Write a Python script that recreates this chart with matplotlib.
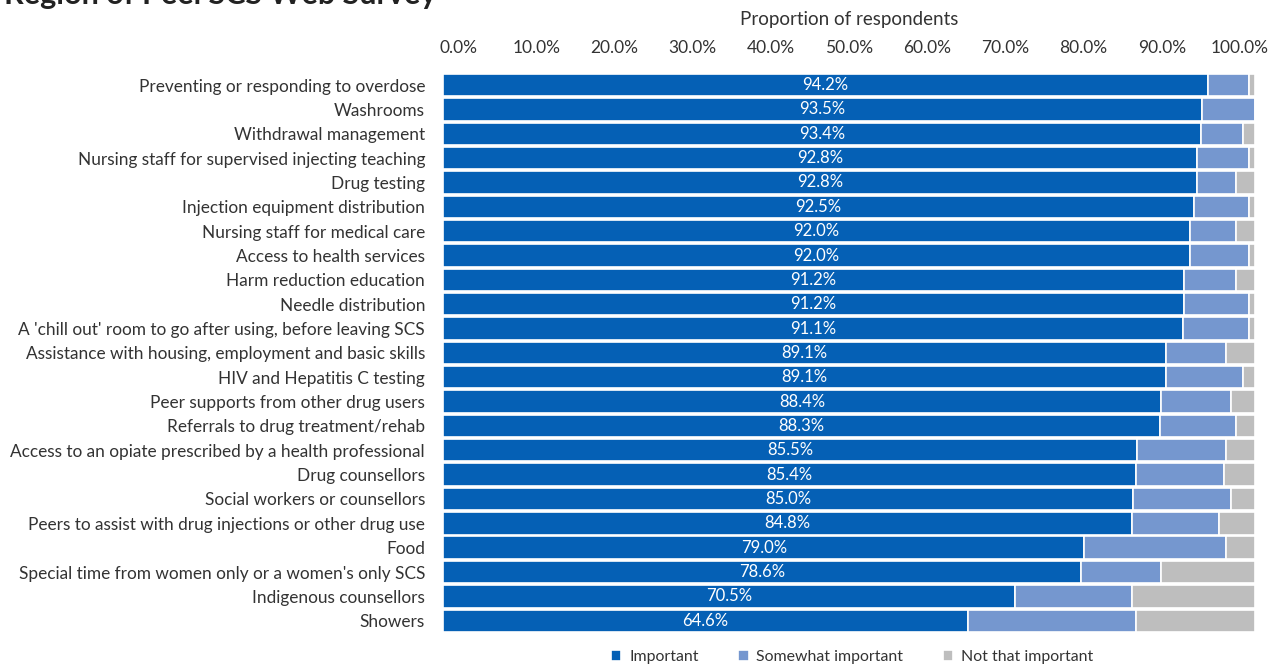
import matplotlib.pyplot as plt
import matplotlib.transforms as mtransforms
import numpy as np
from matplotlib.ticker import PercentFormatter

# Importance ratings for each service (percent of respondents)
services = [
    "Preventing or responding to overdose",
    "Washrooms",
    "Withdrawal management",
    "Nursing staff for supervised injecting teaching",
    "Drug testing",
    "Injection equipment distribution",
    "Nursing staff for medical care",
    "Access to health services",
    "Harm reduction education",
    "Needle distribution",
    "A 'chill out' room to go after using, before leaving SCS",
    "Assistance with housing, employment and basic skills",
    "HIV and Hepatitis C testing",
    "Peer supports from other drug users",
    "Referrals to drug treatment/rehab",
    "Access to an opiate prescribed by a health professional",
    "Drug counsellors",
    "Social workers or counsellors",
    "Peers to assist with drug injections or other drug use",
    "Food",
    "Special time from women only or a women's only SCS",
    "Indigenous counsellors",
    "Showers",
]
important = [94.2, 93.5, 93.4, 92.8, 92.8, 92.5, 92.0, 92.0, 91.2, 91.2, 91.1,
             89.1, 89.1, 88.4, 88.3, 85.5, 85.4, 85.0, 84.8, 79.0, 78.6, 70.5, 64.6]
somewhat = [5.1, 6.5, 5.1, 6.5, 4.9, 6.8, 5.7, 7.3, 6.5, 8.1, 8.2,
            7.3, 9.4, 8.6, 9.4, 10.9, 10.8, 12.0, 10.8, 17.4, 9.8, 14.3, 20.8]
not_that = [0.7, 0.0, 1.5, 0.7, 2.3, 0.7, 2.3, 0.7, 2.3, 0.7, 0.7,
            3.6, 1.5, 3.0, 2.3, 3.6, 3.8, 3.0, 4.4, 3.6, 11.6, 15.2, 14.6]
series_names = ["Important", "Somewhat important", "Not that important"]
colors = ["#0560b5", "#7597cf", "#bebebe"]

plt.rcParams['font.family'] = ['Lato', 'DejaVu Sans']

fig = plt.figure(figsize=(12.75, 6.69), dpi=100)
ax = fig.add_axes([0.3475, 0.054, 0.6368, 0.837])

y = np.arange(len(services))
left = np.zeros(len(services))
for vals, name, col in zip([important, somewhat, not_that], series_names, colors):
    ax.barh(y, vals, left=left, height=0.92, color=col, edgecolor='white',
            linewidth=1.2, label=name)
    left += np.array(vals)

for yi, v in zip(y, important):
    ax.text(v / 2, yi, f"{v:.1f}%", ha='center', va='center', color='white', fontsize=12)

ax.set_xlim(0, 100)
ax.set_ylim(len(services) - 0.5, -0.5)
ax.set_yticks(y)
ax.set_yticklabels(services, fontsize=12.4, color='#333333')
ax.xaxis.tick_top()
ax.xaxis.set_label_position('top')
ax.set_xticks(np.arange(0, 101, 10))
ax.xaxis.set_major_formatter(PercentFormatter(decimals=1))
ax.tick_params(axis='x', labelsize=12.5, colors='#333333', length=0, pad=12)
ax.tick_params(axis='y', length=0, pad=13)
ax.set_xlabel("Proportion of respondents", fontsize=13.5, color='#333333', labelpad=11)
for s in ax.spines.values():
    s.set_visible(False)

# pull the percent labels slightly inward so the end ones stay on the canvas
xlabels = ax.get_xticklabels()
n = len(xlabels) - 1
for i, lab in enumerate(xlabels):
    dx = (15 - 30 * i / n) / 100
    lab.set_transform(lab.get_transform() +
                      mtransforms.ScaledTranslation(dx, 0, fig.dpi_scale_trans))

ax.legend(loc='upper center', bbox_to_anchor=(0.504, -0.005), ncol=3, frameon=False,
          fontsize=11.4, handlelength=0.65, handleheight=0.65, columnspacing=2.5,
          handletextpad=0.5, labelcolor='#333333')

fig.text(0.003, 1.008, "Region of Peel SCS Web Survey", fontsize=22, fontweight='bold',
         color='#222222', va='center', ha='left')

fig.savefig("out.png", dpi=100)
